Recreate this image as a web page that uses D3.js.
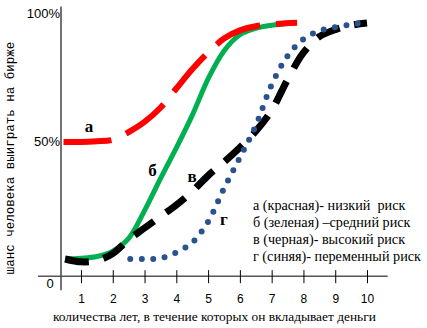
<!DOCTYPE html>
<html>
<head>
<meta charset="utf-8">
<script src="https://cdn.jsdelivr.net/npm/d3@7"></script>
<style>
  body { margin: 0; background: #fff; }
  svg { display: block; }
</style>
</head>
<body>
<svg id="chart"></svg>
<script>
// years on the x axis
const years = [1, 2, 3, 4, 5, 6, 7, 8, 9, 10];
const yTicks = [50, 100];

// [years, chance %]
const lowRisk = [[0.45, 49.6], [1, 49.6], [1.5, 49.9], [2, 50.5], [2.5, 53.5], [3, 57.5], [3.5, 63], [4, 70.5], [4.5, 78], [5, 84.5], [5.5, 90], [6, 93.2], [6.5, 94.8], [7, 95.6], [7.8, 96.2]];
const midRisk = [[0.5, 3.9], [1, 4.2], [1.5, 4.9], [2, 7], [2.5, 12], [3, 22.8], [3.5, 35.3], [4, 47.3], [4.5, 60], [5, 74.3], [5.5, 85.2], [6, 91.5], [6.5, 94], [7, 95.2], [7.7, 96.2]];
const highRisk = [[0.5, 3.9], [1, 2.8], [1.5, 3.3], [2, 6], [2.5, 11.5], [3, 16], [3.5, 20.5], [4, 25], [4.5, 30.3], [5, 36.5], [5.5, 41.8], [6, 47.5], [6.5, 53.8], [7, 62], [7.5, 74], [8, 84.5], [8.5, 90.8], [9, 93.5], [9.5, 95.2], [10, 96.1]];
const varRisk = [[2.55, 3.9], [3, 3.9], [3.5, 4.2], [4, 6.5], [4.5, 10.3], [5, 18.5], [5.5, 31.5], [6, 43.5], [6.5, 56], [7, 72], [7.5, 83.2], [8, 89.8], [8.5, 93], [9, 94.5], [9.5, 95.5], [9.85, 96.1]];

// curve letters: [letter, x, y]
const curveLetters = [["а", 1.25, 53.5], ["б", 3.25, 36.5], ["в", 4.5, 34], ["г", 5.5, 17]];

const legendLines = [
  "а (красная)- низкий  риск",
  "б (зеленая) –средний риск",
  "в (черная)- высокий риск",
  "г (синяя)- переменный риск",
];

const SANS = "'Liberation Sans', Arial, sans-serif";
const SERIF = "'Liberation Serif', 'DejaVu Serif', serif";
const MONO = "'Liberation Mono', 'DejaVu Sans Mono', monospace";

const drawChart = (selector) => {
  const width = 427;
  const height = 328;

  const svg = d3.select(selector).attr("width", width).attr("height", height);

  const xScale = d3.scaleLinear().domain([0, 10]).range([49.2, 367]);
  const yScale = d3.scaleLinear().domain([0, 100]).range([269, 13]);
  const axisY = yScale(-2.8);

  // x axis
  const xAxis = d3
    .axisBottom(xScale)
    .tickValues(years)
    .tickSize(7)
    .tickPadding(11.5);

  const gx = svg
    .append("g")
    .attr("transform", `translate(0, ${axisY})`)
    .call(xAxis);
  gx.select(".domain").remove();
  gx.selectAll(".tick line").attr("y1", -6).attr("y2", 7).attr("stroke", "#000");
  gx.selectAll(".tick text")
    .style("font-family", SANS)
    .style("font-size", "12px")
    .attr("fill", "#000");
  gx.append("line")
    .attr("x1", xScale(-0.35))
    .attr("x2", xScale(10.65))
    .attr("stroke", "#000");

  // y axis
  const yAxis = d3
    .axisLeft(yScale)
    .tickValues(yTicks)
    .tickFormat((d) => d + "%")
    .tickSize(0)
    .tickPadding(1);

  const gy = svg
    .append("g")
    .attr("transform", `translate(61, 0)`)
    .call(yAxis);
  gy.select(".domain").remove();
  gy.selectAll(".tick text")
    .style("font-family", SANS)
    .style("font-size", "13px")
    .attr("fill", "#000");
  gy.append("line")
    .attr("y1", yScale(-8.3))
    .attr("y2", yScale(102.5))
    .attr("stroke", "#444")
    .attr("stroke-width", 1.5);

  svg
    .append("text")
    .attr("x", 50)
    .attr("y", 288)
    .attr("text-anchor", "middle")
    .style("font-family", SANS)
    .style("font-size", "13px")
    .text("0");

  // curves
  const line = d3
    .line()
    .x((d) => xScale(d[0]))
    .y((d) => yScale(d[1]))
    .curve(d3.curveCatmullRom);

  const series = [
    { data: midRisk, color: "#00b050", width: 5, dash: null, cap: "butt" },
    { data: lowRisk, color: "#ff0000", width: 6, dash: "48 16", cap: "butt" },
    { data: highRisk, color: "#000", width: 7, dash: "24 15", cap: "butt" },
    { data: varRisk, color: "#2b5290", width: 6, dash: "0 11.5", cap: "round" },
  ];

  svg
    .selectAll(".curve")
    .data(series)
    .enter()
    .append("path")
    .attr("class", "curve")
    .attr("d", (d) => line(d.data))
    .attr("fill", "none")
    .attr("stroke", (d) => d.color)
    .attr("stroke-width", (d) => d.width)
    .attr("stroke-dasharray", (d) => d.dash)
    .attr("stroke-linecap", (d) => d.cap);

  svg
    .selectAll(".letter")
    .data(curveLetters)
    .enter()
    .append("text")
    .attr("class", "letter")
    .attr("x", (d) => xScale(d[1]))
    .attr("y", (d) => yScale(d[2]))
    .attr("text-anchor", "middle")
    .style("font-family", SERIF)
    .style("font-weight", "bold")
    .style("font-size", "17px")
    .text((d) => d[0]);

  // legend
  svg
    .selectAll(".legend")
    .data(legendLines)
    .enter()
    .append("text")
    .attr("class", "legend")
    .attr("x", 253)
    .attr("y", (d, i) => 210 + i * 17)
    .style("font-family", SERIF)
    .style("font-size", "14.2px")
    .style("white-space", "pre")
    .text((d) => d);

  // axis titles
  svg
    .append("text")
    .attr("x", 53)
    .attr("y", 321)
    .style("font-family", SERIF)
    .style("font-size", "13.4px")
    .text("количества лет, в течение которых он вкладывает деньги");

  svg
    .append("text")
    .attr("transform", "translate(14, 158) rotate(-90)")
    .attr("text-anchor", "middle")
    .style("font-family", MONO)
    .style("font-size", "12.5px")
    .text("шанс человека выиграть на бирже");
};

drawChart("#chart");
</script>
</body>
</html>
